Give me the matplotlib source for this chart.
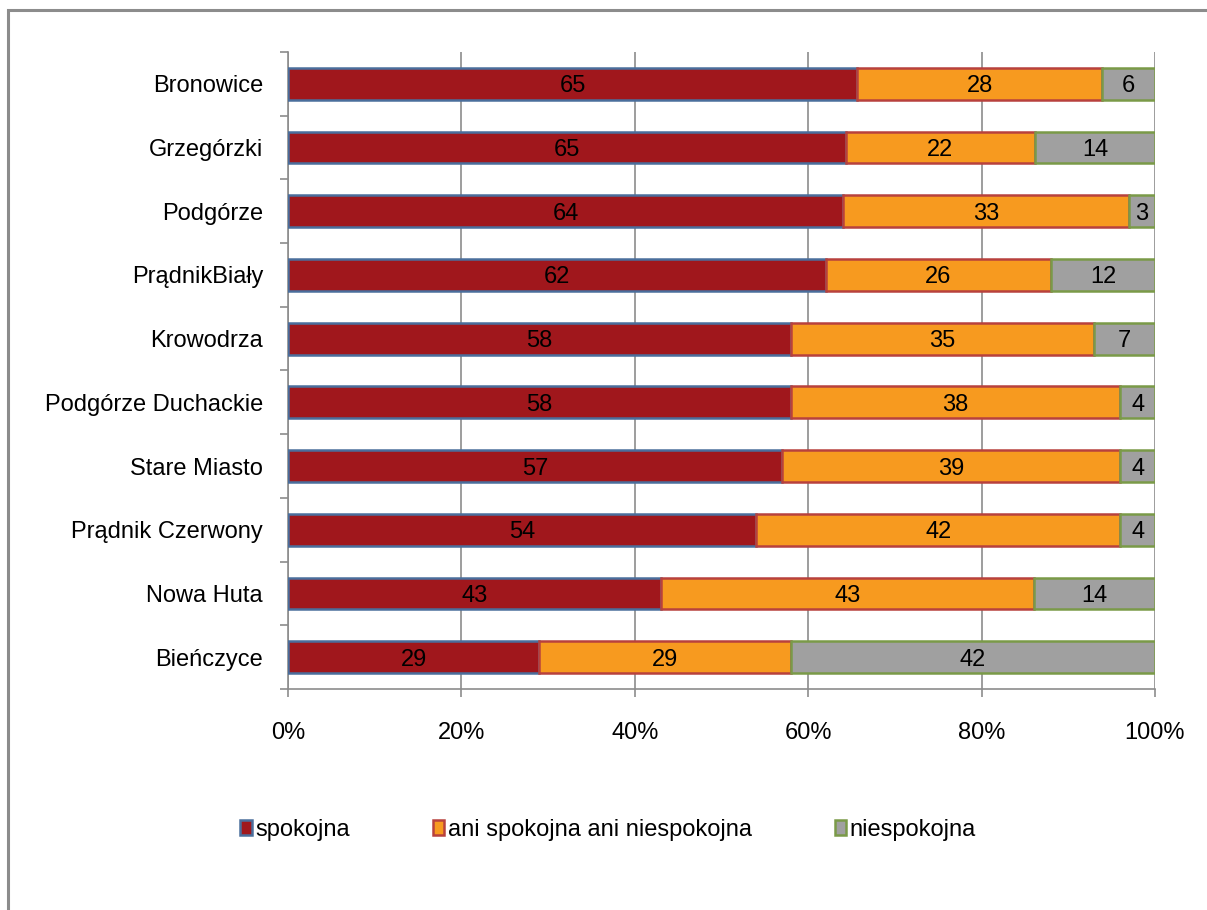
import numpy as np
import matplotlib.pyplot as plt
from matplotlib.patches import Rectangle

plt.rcParams['font.family'] = ['Liberation Sans', 'DejaVu Sans']

districts = ["Bronowice", "Grzegórzki", "Podgórze", "PrądnikBiały", "Krowodrza",
             "Podgórze Duchackie", "Stare Miasto", "Prądnik Czerwony", "Nowa Huta", "Bieńczyce"]
spokojna = [65, 65, 64, 62, 58, 58, 57, 54, 43, 29]
ani = [28, 22, 33, 26, 35, 38, 39, 42, 43, 29]
niespokojna = [6, 14, 3, 12, 7, 4, 4, 4, 14, 42]
series_names = ["spokojna", "ani spokojna ani niespokojna", "niespokojna"]

faces = ["#A0171C", "#F79A1F", "#A0A0A0"]
edges = ["#4A6E9C", "#B8413D", "#7A9A48"]
FS = 17

data = np.array([spokojna, ani, niespokojna], dtype=float)
shares = data / data.sum(axis=0)

fig = plt.figure(figsize=(12.07, 9.10), dpi=100)
fig.patches.append(Rectangle((8 / 1207, -0.1), 1.2, 1.1 - 10 / 910, transform=fig.transFigure,
                             fill=False, edgecolor="#8C8C8C", linewidth=2.2))
ax = fig.add_axes([288 / 1207, 1 - 689 / 910, 867 / 1207, 637 / 910])

y = np.arange(len(districts))
left = np.zeros(len(districts))
for i in range(3):
    bars = ax.barh(y, shares[i], left=left, height=0.5, color=faces[i],
                   edgecolor=edges[i], linewidth=1.8, label=series_names[i], zorder=3)
    for j, b in enumerate(bars):
        ax.text(left[j] + shares[i][j] / 2, y[j], str(int(data[i][j])),
                ha="center", va="center_baseline", fontsize=FS, color="black", zorder=4)
    left += shares[i]

ax.set_ylim(len(districts) - 0.5, -0.5)
ax.set_xlim(0, 1)
ax.set_yticks(y)
ax.set_yticklabels(districts, fontsize=FS)
ax.set_yticks(np.arange(-0.5, len(districts), 1), minor=True)
ax.tick_params(axis="y", which="major", length=0, pad=18)
ax.tick_params(axis="y", which="minor", length=6, color="#8C8C8C", width=1.2)
ax.set_xticks(np.arange(0, 1.01, 0.2))
ax.set_xticklabels([f"{int(v)}%" for v in np.arange(0, 101, 20)], fontsize=FS)
ax.tick_params(axis="x", length=6, color="#8C8C8C", width=1.2, pad=18)
ax.grid(axis="x", color="#8C8C8C", linewidth=1.2, zorder=0)
for s in ["top", "right"]:
    ax.spines[s].set_visible(False)
for s in ["left", "bottom"]:
    ax.spines[s].set_color("#8C8C8C")
    ax.spines[s].set_linewidth(1.2)

fig.legend(loc="center", bbox_to_anchor=(608 / 1207, 1 - 830 / 910), ncol=3, frameon=False,
           fontsize=FS, handlelength=0.5, handleheight=0.6, handletextpad=0.15,
           columnspacing=3.5)

fig.savefig("out.png", dpi=100)
